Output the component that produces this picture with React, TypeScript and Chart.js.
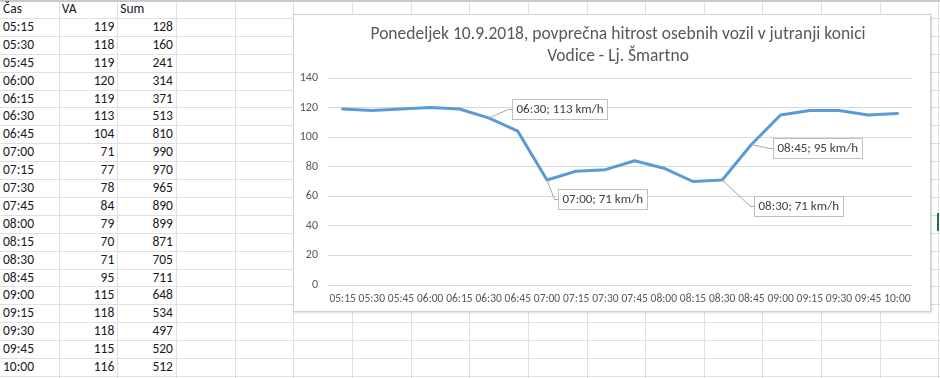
import React, { useEffect, useRef } from 'react';
import { Chart, registerables } from 'chart.js';

Chart.register(...registerables);

// ---- data ----
const categories = ['05:15', '05:30', '05:45', '06:00', '06:15', '06:30', '06:45', '07:00', '07:15', '07:30', '07:45', '08:00', '08:15', '08:30', '08:45', '09:00', '09:15', '09:30', '09:45', '10:00'];
const speedVA = [119, 118, 119, 120, 119, 113, 104, 71, 77, 78, 84, 79, 70, 71, 95, 115, 118, 118, 115, 116];
const sumValues = [128, 160, 241, 314, 371, 513, 810, 990, 970, 965, 890, 899, 871, 705, 711, 648, 534, 497, 520, 512];
const tableHeaders = ['Čas', 'VA', 'Sum'];
const titleLines = ['Ponedeljek 10.9.2018, povprečna hitrost osebnih vozil v jutranji konici', 'Vodice - Lj. Šmartno'];
const yMin = 0;
const yMax = 140;
const yStep = 20;
const annotatedCategories = ['06:30', '07:00', '08:30', '08:45'];
const unit = 'km/h';

// ---- styles / placement (not data) ----
const labelOffsets = [
  { dx: 23, dy: -19 },
  { dx: 11, dy: 9 },
  { dx: 32, dy: 16 },
  { dx: 22, dy: -7 },
];
const CELL_FONT = 'Calibri, Carlito, Lato, "Noto Sans", sans-serif';
const CHART_FONT = 'Calibri, Carlito, Lato, "Noto Sans", sans-serif';
const COL_W = 58.65;
const ROW_H = 17.9;

const titlePlugin = {
  id: 'excelTitle',
  afterDraw(chart: any) {
    const ctx = chart.ctx;
    ctx.save();
    ctx.font = `17.5px ${CHART_FONT}`;
    ctx.fillStyle = '#595959';
    ctx.textAlign = 'center';
    ctx.textBaseline = 'middle';
    const cx = 324;
    ctx.fillText(titleLines[0], cx, 20);
    ctx.fillText(titleLines[1], cx, 42);
    ctx.restore();
  },
};

const labelPlugin = {
  id: 'excelLabels',
  afterDatasetsDraw(chart: any) {
    const ctx = chart.ctx;
    const meta = chart.getDatasetMeta(0);
    ctx.save();
    ctx.font = `13px ${CHART_FONT}`;
    annotatedCategories.forEach((cat, k) => {
      const i = categories.indexOf(cat);
      if (i < 0) return;
      const pt = meta.data[i];
      const px = pt.x;
      const py = pt.y;
      const text = `${cat}; ${speedVA[i]} ${unit}`;
      const tw = ctx.measureText(text).width;
      const bw = Math.round(tw + 8);
      const bh = 20;
      const bx = Math.round(px + labelOffsets[k].dx) + 0.5;
      const by = Math.round(py + labelOffsets[k].dy) + 0.5;
      const my = by + bh / 2;
      ctx.strokeStyle = '#a6a6a6';
      ctx.lineWidth = 1;
      ctx.beginPath();
      ctx.moveTo(px, py);
      ctx.lineTo(bx - 4, my);
      ctx.lineTo(bx, my);
      ctx.stroke();
      ctx.fillStyle = '#ffffff';
      ctx.fillRect(bx, by, bw, bh);
      ctx.strokeStyle = '#bfbfbf';
      ctx.strokeRect(bx, by, bw, bh);
      ctx.fillStyle = '#404040';
      ctx.textAlign = 'left';
      ctx.textBaseline = 'middle';
      ctx.fillText(text, bx + 4, my + 0.5);
    });
    ctx.restore();
  },
};

function ChartBox() {
  const ref = useRef<HTMLCanvasElement | null>(null);
  useEffect(() => {
    if (!ref.current) return;
    const chart = new Chart(ref.current, {
      type: 'line',
      data: {
        labels: categories,
        datasets: [
          {
            label: 'VA',
            data: speedVA,
            borderColor: '#5b9bd5',
            backgroundColor: '#5b9bd5',
            borderWidth: 3,
            pointRadius: 0,
            tension: 0,
            borderJoinStyle: 'round',
            borderCapStyle: 'round',
          },
        ],
      },
      options: {
        animation: false,
        responsive: false,
        devicePixelRatio: 1,
        layout: { padding: { left: 2, right: 18, top: 63, bottom: 0 } },
        plugins: {
          legend: { display: false },
          tooltip: { enabled: false },
          title: { display: false },
        },
        scales: {
          x: {
            offset: true,
            grid: { display: false, drawTicks: false },
            border: { display: false },
            ticks: {
              autoSkip: false,
              maxRotation: 0,
              minRotation: 0,
              padding: 7,
              color: '#595959',
              font: { family: CHART_FONT, size: 11.5 },
            },
            afterFit: (s: any) => {
              s.height = 26;
            },
          },
          y: {
            min: yMin,
            max: yMax,
            grid: { color: '#d9d9d9', lineWidth: 1, drawTicks: false },
            border: { display: false },
            ticks: {
              stepSize: yStep,
              padding: 10,
              color: '#595959',
              font: { family: CHART_FONT, size: 12 },
            },
            afterFit: (s: any) => {
              s.width = 32;
            },
          },
        },
      },
      plugins: [labelPlugin, titlePlugin],
    } as any);
    return () => chart.destroy();
  }, []);
  return (
    <canvas
      ref={ref}
      width={636}
      height={296}
      style={{ position: 'absolute', left: 0, top: 0, width: 636, height: 296 }}
    />
  );
}

export default function App() {
  const cols = Array.from({ length: 17 }, (_, j) => j + 1);
  const rows = Array.from({ length: 22 }, (_, k) => k + 1);
  const cellText = (x: number, y: number, w: number, text: string, align: 'left' | 'right', key: string) => (
    <div
      key={key}
      style={{
        position: 'absolute',
        left: x + 3,
        top: y,
        width: w - 6,
        height: ROW_H,
        lineHeight: `${ROW_H}px`,
        textAlign: align,
        fontSize: 13.5,
        color: '#1a1a1a',
        whiteSpace: 'nowrap',
      }}
    >
      {text}
    </div>
  );
  return (
    <div
      style={{
        position: 'absolute',
        left: 0,
        top: 0,
        width: 940,
        height: 378,
        overflow: 'hidden',
        background: '#ffffff',
        fontFamily: CELL_FONT,
      }}
    >
      {cols.map((j) => (
        <div
          key={'c' + j}
          style={{ position: 'absolute', left: Math.round(j * COL_W), top: 0, width: 1, height: 378, background: '#e0e0e0' }}
        />
      ))}
      {rows.map((k) => (
        <div
          key={'r' + k}
          style={{ position: 'absolute', left: 0, top: Math.round(k * ROW_H), width: 940, height: 1, background: '#e0e0e0' }}
        />
      ))}
      <div style={{ position: 'absolute', left: 0, top: 0, width: 940, height: 2, background: '#c9c9c9' }} />
      {tableHeaders.map((h, j) => cellText(j * COL_W, 0, COL_W, h, 'left', 'h' + j))}
      {categories.map((c, i) => cellText(0, (i + 1) * ROW_H, COL_W, c, 'left', 'a' + i))}
      {speedVA.map((v, i) => cellText(COL_W, (i + 1) * ROW_H, COL_W, String(v), 'right', 'b' + i))}
      {sumValues.map((v, i) => cellText(2 * COL_W, (i + 1) * ROW_H, COL_W, String(v), 'right', 's' + i))}
      <div style={{ position: 'absolute', left: 937, top: 213, width: 2, height: 18, background: '#217346' }} />
      <div
        style={{
          position: 'absolute',
          left: 293,
          top: 14,
          width: 638,
          height: 298,
          boxSizing: 'border-box',
          border: '1px solid #d0d0d0',
          background: '#ffffff',
          boxShadow: '1px 1px 2px rgba(0,0,0,0.15)',
        }}
      >
        <ChartBox />
      </div>
    </div>
  );
}
